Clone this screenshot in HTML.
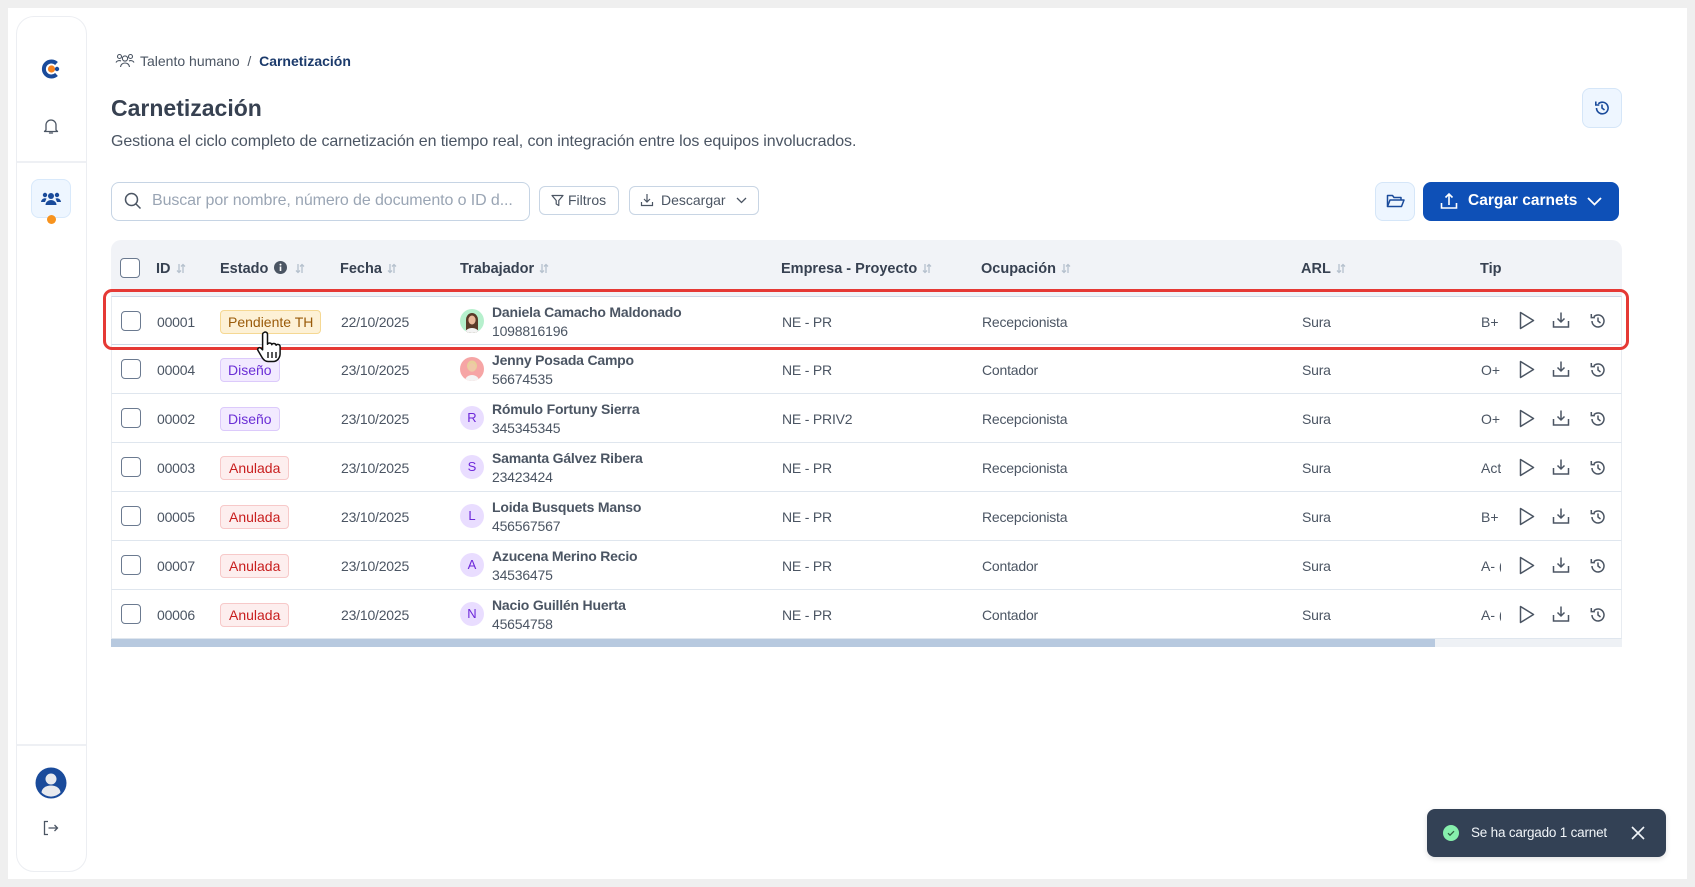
<!DOCTYPE html>
<html><head><meta charset="utf-8">
<style>
*{box-sizing:border-box;margin:0;padding:0}
body{width:1695px;height:887px;overflow:hidden;background:#efefef;font-family:"Liberation Sans",sans-serif;color:#4b5563;position:relative}
.abs{position:absolute}
.panel{left:8px;top:8px;width:1679px;height:871px;background:#fff}
.side{left:16px;top:16px;width:71px;height:856px;border:1px solid #eceef2;border-radius:18px;background:#fff}
.hdr{left:111px;top:240px;width:1511px;height:56px;background:#f1f3f7;border-radius:10px 10px 0 0}
.ht{position:absolute;top:0;line-height:58px;font-size:14.5px;font-weight:bold;color:#374151;white-space:nowrap}
.ht svg{vertical-align:-1px;margin-left:5px}
.row{position:absolute;left:111px;width:1511px;height:49px;border-bottom:1px solid #dfe6ee;border-left:1px solid #e8ecf1;border-right:1px solid #e8ecf1;background:#fff}
.c{position:absolute;top:0;line-height:51px;font-size:14px;white-space:nowrap;color:#4b5563;letter-spacing:-0.2px}
.cb{position:absolute;left:9px;top:14px;width:20px;height:20px;border:1.5px solid #6b7a90;border-radius:4px;background:#fff}
.bd{position:absolute;left:108px;top:13px;height:24px;line-height:22px;font-size:14px;padding:0 7px;border:1px solid;border-radius:4px;white-space:nowrap}
.pend{background:#fdf1d6;border-color:#f5d893;color:#9a5b0a}
.dis{background:#f2eaff;border-color:#dccafb;color:#6b2fd6}
.anu{background:#fdeeee;border-color:#f7c9c9;color:#c81e1e;padding:0 8px}
.av{position:absolute;left:348px;top:12px;width:24px;height:24px;border-radius:50%;background:#e9ddff;color:#6d28d9;font-size:13px;text-align:center;line-height:24px;overflow:hidden}
.nm{position:absolute;left:380px;top:6px;font-size:14px;line-height:19px;white-space:nowrap;letter-spacing:-0.2px}
.nm b{font-weight:bold;color:#4b5563;display:block}
.tip{position:absolute;left:1369px;top:0;width:20px;overflow:hidden;line-height:51px;font-size:14px;white-space:nowrap}
.btn{position:absolute;border:1px solid #c8d5e4;border-radius:6px;background:#fff;font-size:14px;color:#4b5563;white-space:nowrap}
</style></head><body>
<div class="abs panel"></div>
<div class="abs side"></div>
<div class="abs" style="left:17px;top:161px;width:69px;height:2px;background:#eef0f4"></div>
<div class="abs" style="left:17px;top:744px;width:69px;height:2px;background:#eef0f4"></div>
<svg class="abs" style="left:40px;top:59px" width="22" height="20" viewBox="0 0 22 20"><path d="M16.5 4.5 A7.5 7.5 0 1 0 16.5 15.5" fill="none" stroke="#1a4b9b" stroke-width="4"/><circle cx="11.5" cy="10" r="3.6" fill="#f58220"/><circle cx="17" cy="10" r="2.2" fill="#1a4b9b"/></svg>
<svg class="abs" style="left:42px;top:117px" width="18" height="18" viewBox="0 0 18 18"><path d="M4 13V8a5 5 0 0 1 10 0v5l1.5 1.5h-13Z" fill="none" stroke="#4b5563" stroke-width="1.3" stroke-linejoin="round"/><path d="M7.5 16h3" stroke="#4b5563" stroke-width="1.3" stroke-linecap="round"/></svg>
<div class="abs" style="left:31px;top:179px;width:40px;height:39px;background:#eef6ff;border:1px solid #d8e9fb;border-radius:8px"></div>
<svg class="abs" style="left:41px;top:191px" width="20" height="16" viewBox="0 0 20 16"><circle cx="10" cy="5" r="3" fill="#1a4b9b"/><path d="M4.5 14a5.5 5 0 0 1 11 0Z" fill="#1a4b9b"/><circle cx="4" cy="4" r="2.2" fill="#1a4b9b"/><circle cx="16" cy="4" r="2.2" fill="#1a4b9b"/><path d="M0 11a4 4 0 0 1 5.5-3.5L4 11Z M20 11a4 4 0 0 0-5.5-3.5L16 11Z" fill="#1a4b9b"/></svg>
<div class="abs" style="left:47px;top:215px;width:9px;height:9px;border-radius:50%;background:#f7931e"></div>
<svg class="abs" style="left:35px;top:767px" width="32" height="32" viewBox="0 0 32 32"><circle cx="16" cy="16" r="15.5" fill="#1a4b9b"/><circle cx="16" cy="12" r="5.5" fill="#e8eaee"/><path d="M6.5 25.5a9.5 7 0 0 1 19 0 A13 13 0 0 1 6.5 25.5Z" fill="#e8eaee"/></svg>
<svg class="abs" style="left:42px;top:820px" width="18" height="16" viewBox="0 0 18 16"><path d="M6 1.5H2.5v13H6" fill="none" stroke="#4b5563" stroke-width="1.3"/><path d="M6.5 8h9M12.5 5l3 3-3 3" fill="none" stroke="#4b5563" stroke-width="1.3"/></svg>

<svg class="abs" style="left:115px;top:53px" width="20" height="15" viewBox="0 0 20 15"><circle cx="10" cy="5.5" r="2.6" fill="none" stroke="#4b5563" stroke-width="1.1"/><path d="M5.5 14a4.5 4 0 0 1 9 0" fill="none" stroke="#4b5563" stroke-width="1.1"/><circle cx="4.5" cy="3.5" r="2" fill="none" stroke="#4b5563" stroke-width="1.1"/><circle cx="15.5" cy="3.5" r="2" fill="none" stroke="#4b5563" stroke-width="1.1"/><path d="M1 9.5a3.5 3 0 0 1 5-1.5M19 9.5a3.5 3 0 0 0-5-1.5" fill="none" stroke="#4b5563" stroke-width="1.1"/></svg>
<div class="abs" style="left:140px;top:52px;font-size:14px;line-height:18px;color:#4b5563;white-space:nowrap">Talento humano&nbsp; / &nbsp;<b style="color:#1b3a6b">Carnetización</b></div>

<div class="abs" style="left:111px;top:94px;font-size:23px;font-weight:bold;color:#374151;line-height:28px">Carnetización</div>
<div class="abs" style="left:111px;top:132px;font-size:16px;color:#4b5563;line-height:20px;white-space:nowrap;letter-spacing:-0.1px">Gestiona el ciclo completo de carnetización en tiempo real, con integración entre los equipos involucrados.</div>

<div class="abs" style="left:1582px;top:88px;width:40px;height:40px;background:#eef6ff;border:1px solid #d5e6f8;border-radius:8px"></div>
<svg class="abs" style="left:1593px;top:99px" width="18" height="18" viewBox="0 0 18 18"><path d="M3.5 9a5.8 5.8 0 1 0 1.8-4.2" fill="none" stroke="#1a4b9b" stroke-width="1.6"/><path d="M2.8 2.5v3.5h3.5" fill="none" stroke="#1a4b9b" stroke-width="1.6"/><path d="M9 5.5V9l2.5 2" fill="none" stroke="#1a4b9b" stroke-width="1.6"/></svg>

<div class="abs" style="left:111px;top:182px;width:419px;height:39px;border:1px solid #c6d4e4;border-radius:8px"></div>
<svg class="abs" style="left:124px;top:192px" width="18" height="18" viewBox="0 0 18 18"><circle cx="7.5" cy="7.5" r="6" fill="none" stroke="#4b5563" stroke-width="1.5"/><path d="M12 12l4.5 4.5" stroke="#4b5563" stroke-width="1.5"/></svg>
<div class="abs" style="left:152px;top:191px;font-size:16px;line-height:20px;color:#9aa5b4;white-space:nowrap;letter-spacing:-0.1px">Buscar por nombre, número de documento o ID d...</div>

<div class="btn" style="left:539px;top:186px;width:80px;height:29px;line-height:27px;padding-left:28px">Filtros</div>
<svg class="abs" style="left:551px;top:194px" width="13" height="13" viewBox="0 0 13 13"><path d="M1 1.5h11L7.8 6.5v5L5.2 10V6.5Z" fill="none" stroke="#4b5563" stroke-width="1.2" stroke-linejoin="round"/></svg>
<div class="btn" style="left:629px;top:186px;width:130px;height:29px;line-height:27px;padding-left:31px">Descargar</div>
<svg class="abs" style="left:640px;top:193px" width="14" height="14" viewBox="0 0 14 14"><path d="M7 1v7.5M4 6l3 3 3-3M1.5 9v3.5h11V9" fill="none" stroke="#4b5563" stroke-width="1.2"/></svg>
<svg class="abs" style="left:736px;top:197px" width="11" height="7" viewBox="0 0 11 7"><path d="M1 1l4.5 4.5L10 1" fill="none" stroke="#4b5563" stroke-width="1.3"/></svg>

<div class="abs" style="left:1375px;top:182px;width:40px;height:39px;background:#eef6ff;border:1px solid #d5e6f8;border-radius:8px"></div>
<svg class="abs" style="left:1386px;top:193px" width="19" height="16" viewBox="0 0 19 16"><path d="M1.5 13.5V2.5h5l1.5 2h7v2.5" fill="none" stroke="#1a4b9b" stroke-width="1.5" stroke-linejoin="round"/><path d="M1.5 13.5l2.5-6.5h14l-2.5 6.5Z" fill="none" stroke="#1a4b9b" stroke-width="1.5" stroke-linejoin="round"/></svg>
<div class="abs" style="left:1423px;top:182px;width:196px;height:39px;background:#0e50b7;border-radius:8px"></div>
<svg class="abs" style="left:1440px;top:192px" width="18" height="18" viewBox="0 0 18 18"><path d="M9 13V2M5.5 5.5 9 2l3.5 3.5M1.5 11v5h15v-5" fill="none" stroke="#fff" stroke-width="1.6"/></svg>
<div class="abs" style="left:1468px;top:191px;font-size:15.5px;font-weight:bold;color:#fff;line-height:20px;white-space:nowrap">Cargar carnets</div>
<svg class="abs" style="left:1587px;top:197px" width="15" height="9" viewBox="0 0 15 9"><path d="M1 1l6.5 6.5L14 1" fill="none" stroke="#fff" stroke-width="1.8"/></svg>

<div class="abs hdr">
  <div class="cb" style="top:18px;left:9px;border-color:#6b7a90"></div>
  <div class="ht" style="left:45px">ID<svg width="10" height="11" viewBox="0 0 10 11"><path d="M3 1v8.5M1 7.5l2 2 2-2M7 10V1.5M5 3.5l2-2 2 2" stroke="#b6c1ce" stroke-width="1.3" fill="none"/></svg></div>
  <div class="ht" style="left:109px">Estado <svg width="13" height="13" viewBox="0 0 13 13" style="margin-left:2px"><circle cx="6.5" cy="6.5" r="6.5" fill="#4b5563"/><rect x="5.7" y="5.5" width="1.6" height="4.5" fill="#fff"/><circle cx="6.5" cy="3.6" r="1" fill="#fff"/></svg><svg width="10" height="11" viewBox="0 0 10 11" style="margin-left:8px"><path d="M3 1v8.5M1 7.5l2 2 2-2M7 10V1.5M5 3.5l2-2 2 2" stroke="#b6c1ce" stroke-width="1.3" fill="none"/></svg></div>
  <div class="ht" style="left:229px">Fecha<svg width="10" height="11" viewBox="0 0 10 11"><path d="M3 1v8.5M1 7.5l2 2 2-2M7 10V1.5M5 3.5l2-2 2 2" stroke="#b6c1ce" stroke-width="1.3" fill="none"/></svg></div>
  <div class="ht" style="left:349px">Trabajador<svg width="10" height="11" viewBox="0 0 10 11"><path d="M3 1v8.5M1 7.5l2 2 2-2M7 10V1.5M5 3.5l2-2 2 2" stroke="#b6c1ce" stroke-width="1.3" fill="none"/></svg></div>
  <div class="ht" style="left:670px">Empresa - Proyecto<svg width="10" height="11" viewBox="0 0 10 11"><path d="M3 1v8.5M1 7.5l2 2 2-2M7 10V1.5M5 3.5l2-2 2 2" stroke="#b6c1ce" stroke-width="1.3" fill="none"/></svg></div>
  <div class="ht" style="left:870px">Ocupación<svg width="10" height="11" viewBox="0 0 10 11"><path d="M3 1v8.5M1 7.5l2 2 2-2M7 10V1.5M5 3.5l2-2 2 2" stroke="#b6c1ce" stroke-width="1.3" fill="none"/></svg></div>
  <div class="ht" style="left:1190px">ARL<svg width="10" height="11" viewBox="0 0 10 11"><path d="M3 1v8.5M1 7.5l2 2 2-2M7 10V1.5M5 3.5l2-2 2 2" stroke="#b6c1ce" stroke-width="1.3" fill="none"/></svg></div>
  <div class="ht" style="left:1369px;width:22px;overflow:hidden">Tipo</div>
</div>

<div class="row" style="top:296px;border-top:1px solid #cdd8e6;border-bottom-color:#cdd8e6">
  <div class="cb"></div><div class="c" style="left:45px">00001</div>
  <div class="bd pend">Pendiente TH</div>
  <div class="c" style="left:229px">22/10/2025</div>
  <div class="av" style="background:#b6f0cd"><svg width="24" height="24" viewBox="0 0 24 24"><path d="M6 24V11a6 7 0 0 1 12 0v13Z" fill="#5a3a28"/><ellipse cx="12" cy="11" rx="3.6" ry="4.5" fill="#e9b99a"/><path d="M5 24a7 5 0 0 1 14 0Z" fill="#f4f4f4"/></svg></div>
  <div class="nm"><b>Daniela Camacho Maldonado</b>1098816196</div>
  <div class="c" style="left:670px">NE - PR</div><div class="c" style="left:870px">Recepcionista</div><div class="c" style="left:1190px">Sura</div>
  <div class="tip">B+ (</div>
</div>
<div class="row" style="top:345px">
  <div class="cb"></div><div class="c" style="left:45px">00004</div>
  <div class="bd dis">Diseño</div>
  <div class="c" style="left:229px">23/10/2025</div>
  <div class="av" style="background:#f6a5a5"><svg width="24" height="24" viewBox="0 0 24 24"><ellipse cx="12" cy="9" rx="5" ry="5.5" fill="#e8cf9a"/><ellipse cx="12" cy="10.5" rx="3.6" ry="4.3" fill="#f0c8a8"/><path d="M5 24a7 6 0 0 1 14 0Z" fill="#f4f4f4"/></svg></div>
  <div class="nm"><b>Jenny Posada Campo</b>56674535</div>
  <div class="c" style="left:670px">NE - PR</div><div class="c" style="left:870px">Contador</div><div class="c" style="left:1190px">Sura</div>
  <div class="tip">O+</div>
</div>
<div class="row" style="top:394px">
  <div class="cb"></div><div class="c" style="left:45px">00002</div>
  <div class="bd dis">Diseño</div>
  <div class="c" style="left:229px">23/10/2025</div>
  <div class="av">R</div>
  <div class="nm"><b>Rómulo Fortuny Sierra</b>345345345</div>
  <div class="c" style="left:670px">NE - PRIV2</div><div class="c" style="left:870px">Recepcionista</div><div class="c" style="left:1190px">Sura</div>
  <div class="tip">O+</div>
</div>
<div class="row" style="top:443px">
  <div class="cb"></div><div class="c" style="left:45px">00003</div>
  <div class="bd anu">Anulada</div>
  <div class="c" style="left:229px">23/10/2025</div>
  <div class="av">S</div>
  <div class="nm"><b>Samanta Gálvez Ribera</b>23423424</div>
  <div class="c" style="left:670px">NE - PR</div><div class="c" style="left:870px">Recepcionista</div><div class="c" style="left:1190px">Sura</div>
  <div class="tip">Activo</div>
</div>
<div class="row" style="top:492px">
  <div class="cb"></div><div class="c" style="left:45px">00005</div>
  <div class="bd anu">Anulada</div>
  <div class="c" style="left:229px">23/10/2025</div>
  <div class="av">L</div>
  <div class="nm"><b>Loida Busquets Manso</b>456567567</div>
  <div class="c" style="left:670px">NE - PR</div><div class="c" style="left:870px">Recepcionista</div><div class="c" style="left:1190px">Sura</div>
  <div class="tip">B+ (</div>
</div>
<div class="row" style="top:541px">
  <div class="cb"></div><div class="c" style="left:45px">00007</div>
  <div class="bd anu">Anulada</div>
  <div class="c" style="left:229px">23/10/2025</div>
  <div class="av">A</div>
  <div class="nm"><b>Azucena Merino Recio</b>34536475</div>
  <div class="c" style="left:670px">NE - PR</div><div class="c" style="left:870px">Contador</div><div class="c" style="left:1190px">Sura</div>
  <div class="tip">A- (</div>
</div>
<div class="row" style="top:590px">
  <div class="cb"></div><div class="c" style="left:45px">00006</div>
  <div class="bd anu">Anulada</div>
  <div class="c" style="left:229px">23/10/2025</div>
  <div class="av">N</div>
  <div class="nm"><b>Nacio Guillén Huerta</b>45654758</div>
  <div class="c" style="left:670px">NE - PR</div><div class="c" style="left:870px">Contador</div><div class="c" style="left:1190px">Sura</div>
  <div class="tip">A- (</div>
</div>

<svg class="abs" style="left:1515px;top:296px" width="100" height="343" viewBox="0 0 100 343">
  <defs>
    <g id="acts">
      <path d="M5.5 16.5 L18.5 24.5 L5.5 32.5 Z" fill="none" stroke="#4b5563" stroke-width="1.5" stroke-linejoin="round"/>
      <path d="M46 16.5v9M42.5 22.5 46 26l3.5-3.5M38.5 25v6h15v-6" fill="none" stroke="#4b5563" stroke-width="1.5"/>
      <path d="M77 25a6 6 0 1 0 1.8-4.3" fill="none" stroke="#4b5563" stroke-width="1.5"/>
      <path d="M76.3 18v3.6h3.6" fill="none" stroke="#4b5563" stroke-width="1.5"/>
      <path d="M83 21.5V25l2.5 2" fill="none" stroke="#4b5563" stroke-width="1.5"/>
    </g>
  </defs>
  <use href="#acts" y="0"/><use href="#acts" y="49"/><use href="#acts" y="98"/><use href="#acts" y="147"/><use href="#acts" y="196"/><use href="#acts" y="245"/><use href="#acts" y="294"/>
</svg>

<div class="abs" style="left:111px;top:639px;width:1511px;height:8px;background:#eef1f5"></div>
<div class="abs" style="left:111px;top:639px;width:1324px;height:8px;background:#b7c9df"></div>

<div class="abs" style="left:103px;top:289px;width:1526px;height:61px;border:3px solid #e53935;border-radius:9px"></div>

<svg class="abs" style="left:255px;top:330px" width="32" height="34" viewBox="0 0 32 34"><path d="M9 2.5c1.5-1 3.5-.2 3.5 1.8v10c.5-1.8 4-1.8 4.3.4.5-1.8 4-1.6 4.3.6.7-1.5 4-1.2 4 1.2v7c0 4-2.5 8-7 8h-5c-3 0-4.5-1.5-6-4L3 20.5c-1-1.6.8-3.6 2.6-2.5l2 1.8V4.3c0-.8.5-1.4 1.4-1.8Z" fill="#fff" stroke="#111" stroke-width="1.5" stroke-linejoin="round"/><path d="M13 22v6M17 22v6M21 22v6" stroke="#111" stroke-width="1.4"/></svg>

<div class="abs" style="left:1427px;top:809px;width:239px;height:48px;background:#334155;border-radius:8px;box-shadow:0 2px 6px rgba(0,0,0,.12)"></div>
<svg class="abs" style="left:1443px;top:825px" width="16" height="16" viewBox="0 0 16 16"><circle cx="8" cy="8" r="8" fill="#86efac"/><path d="M5 8.2l2 2 4-4" fill="none" stroke="#2f5f40" stroke-width="1.3"/></svg>
<div class="abs" style="left:1471px;top:824px;font-size:13.5px;color:#f1f5f9;line-height:18px;white-space:nowrap;letter-spacing:-0.2px">Se ha cargado 1 carnet</div>
<svg class="abs" style="left:1631px;top:826px" width="14" height="14" viewBox="0 0 14 14"><path d="M1 1l12 12M13 1L1 13" stroke="#f1f5f9" stroke-width="1.6"/></svg>
</body></html>
